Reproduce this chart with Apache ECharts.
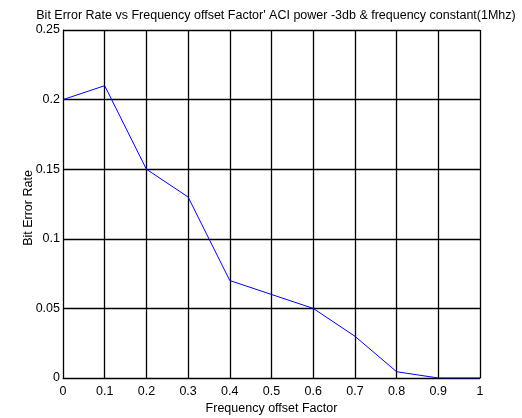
<!DOCTYPE html>
<html>
<head>
<meta charset="utf-8">
<script src="https://cdn.jsdelivr.net/npm/echarts@6/dist/echarts.min.js"></script>
<style>
  html, body { margin: 0; padding: 0; background: #fff; }
  #chart { width: 522px; height: 418px; }
</style>
</head>
<body>
<div id="chart"></div>
<script>
// 数据
var offsetFactor = [0, 0.1, 0.2, 0.3, 0.4, 0.5, 0.6, 0.7, 0.8, 0.9, 1.0];
var bitErrorRate = [0.2, 0.21, 0.15, 0.13, 0.07, 0.06, 0.05, 0.03, 0.0045, 0, 0];

var chart = echarts.init(document.getElementById('chart'), null, { renderer: 'canvas' });

var font = 'Liberation Sans, Arial, sans-serif';

var option = {
  animation: false,
  backgroundColor: '#fff',
  title: {
    text: "Bit Error Rate vs Frequency offset Factor' ACI power -3db & frequency constant(1Mhz)",
    left: 271,
    textAlign: 'center',
    top: 4,
    textStyle: { fontFamily: font, fontSize: 12.5, fontWeight: 'normal', color: '#000' }
  },
  grid: { left: 63, right: 42, top: 30, bottom: 40, containLabel: false, outerBoundsMode: 'none' },
  xAxis: {
    type: 'value',
    min: 0,
    max: 1,
    interval: 0.1,
    name: 'Frequency offset Factor',
    nameLocation: 'middle',
    nameGap: 24,
    nameMoveOverlap: false,
    nameTextStyle: { fontFamily: font, fontSize: 12.5, color: '#000' },
    axisLine: { show: true, lineStyle: { color: '#000', width: 1 } },
    axisTick: { show: false },
    axisLabel: {
      fontFamily: font, fontSize: 12.5, color: '#000', margin: 7,
      formatter: function(v) { return String(Math.round(v * 10) / 10); }
    },
    splitLine: { show: true, lineStyle: { color: '#000', width: 1.3 } }
  },
  yAxis: {
    type: 'value',
    min: 0,
    max: 0.25,
    interval: 0.05,
    name: 'Bit Error Rate',
    nameLocation: 'middle',
    nameGap: 28,
    nameMoveOverlap: false,
    nameTextStyle: { fontFamily: font, fontSize: 12.5, color: '#000', padding: [0, 8, 0, 0] },
    axisLine: { show: true, lineStyle: { color: '#000', width: 1 } },
    axisTick: { show: false },
    axisLabel: {
      fontFamily: font, fontSize: 12.5, color: '#000', margin: 3,
      formatter: function(v) { return String(Math.round(v * 100) / 100); }
    },
    splitLine: { show: true, lineStyle: { color: '#000', width: 1.3 } }
  },
  series: [{
    type: 'line',
    data: offsetFactor.map(function(x, i) { return [x, bitErrorRate[i]]; }),
    symbol: 'none',
    lineStyle: { color: '#0000ff', width: 1 },
    z: 5
  }]
};

chart.setOption(option);
</script>
</body>
</html>
